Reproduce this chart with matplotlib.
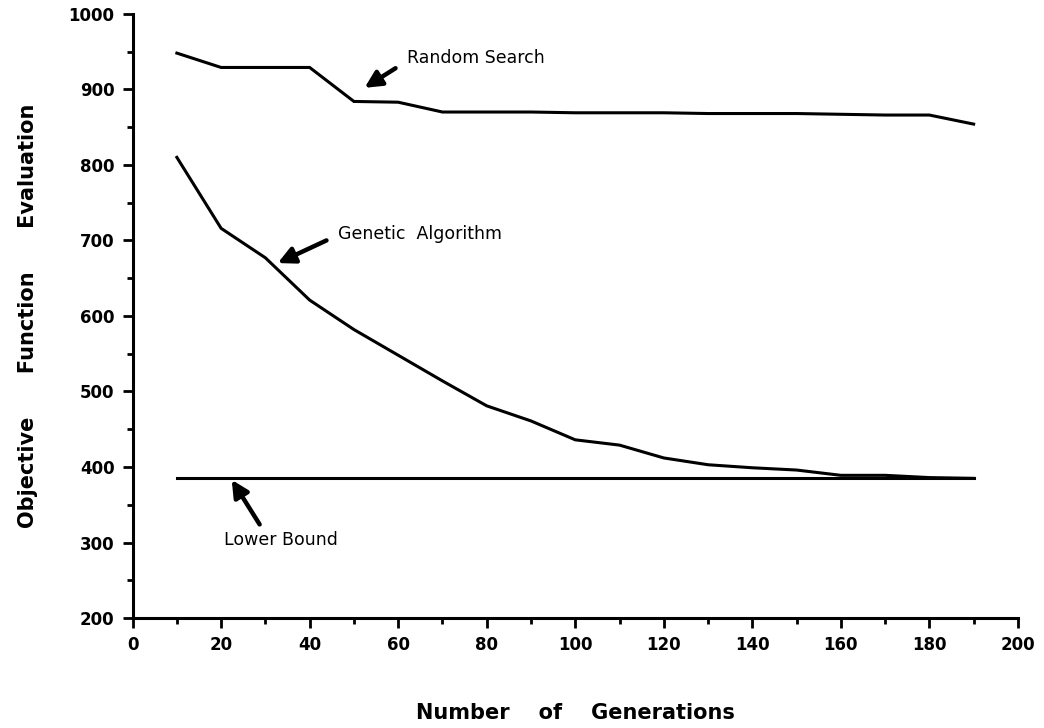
"""Objective function evaluation vs. number of generations (GA vs random search)."""

import matplotlib

matplotlib.use("Agg")
import matplotlib.pyplot as plt
from matplotlib.ticker import MultipleLocator

plt.rcParams["font.family"] = ["DejaVu Sans"]

generations = [10, 20, 30, 40, 50, 60, 70, 80, 90, 100,
               110, 120, 130, 140, 150, 160, 170, 180, 190]
random_search = [948, 929, 929, 929, 884, 883, 870, 870, 870, 869,
                 869, 869, 868, 868, 868, 867, 866, 866, 854]
genetic_algorithm = [810, 716, 677, 621, 582, 548, 514, 481, 461, 436,
                     429, 412, 403, 399, 396, 389, 389, 386, 385]
lower_bound = [385] * len(generations)

fig = plt.figure(figsize=(10.44, 7.28), dpi=100)
ax = fig.add_axes([0.127, 0.151, 0.848, 0.830])

for series in (random_search, genetic_algorithm, lower_bound):
    ax.plot(generations, series, color="black", lw=2.2, solid_joinstyle="miter")

ax.set_xlim(0, 200)
ax.set_ylim(200, 1000)
ax.xaxis.set_major_locator(MultipleLocator(20))
ax.xaxis.set_minor_locator(MultipleLocator(10))
ax.yaxis.set_major_locator(MultipleLocator(100))
ax.yaxis.set_minor_locator(MultipleLocator(50))
ax.spines["top"].set_visible(False)
ax.spines["right"].set_visible(False)
for side in ("left", "bottom"):
    ax.spines[side].set_linewidth(2.2)
ax.tick_params(which="major", length=7, width=2, labelsize=12, pad=6)
ax.tick_params(which="minor", length=4, width=2)
for lbl in ax.get_xticklabels() + ax.get_yticklabels():
    lbl.set_fontweight("bold")

ax.set_xlabel("Number    of    Generations", fontsize=15, fontweight="bold",
              labelpad=35)
ax.set_ylabel("Objective      Function      Evaluation", fontsize=15,
              fontweight="bold", labelpad=22)

# arrows drawn separately so their tails sit beside the labels
arrow = dict(arrowstyle="-|>,head_length=1.0,head_width=0.5", color="black",
             lw=3.2, shrinkA=0, shrinkB=0)
ax.text(62, 942, "Random Search", fontsize=12.5, va="center", ha="left")
ax.annotate("", xy=(52.4, 902), xytext=(59.4, 928), arrowprops=arrow)
ax.text(46.3, 708, "Genetic  Algorithm", fontsize=12.5, va="center", ha="left")
ax.annotate("", xy=(32.8, 670), xytext=(43.8, 700), arrowprops=arrow)
ax.text(20.6, 303, "Lower Bound", fontsize=12.5, va="center", ha="left")
ax.annotate("", xy=(22.4, 383), xytext=(28.7, 324), arrowprops=arrow)

fig.savefig("out.png", dpi=100)
